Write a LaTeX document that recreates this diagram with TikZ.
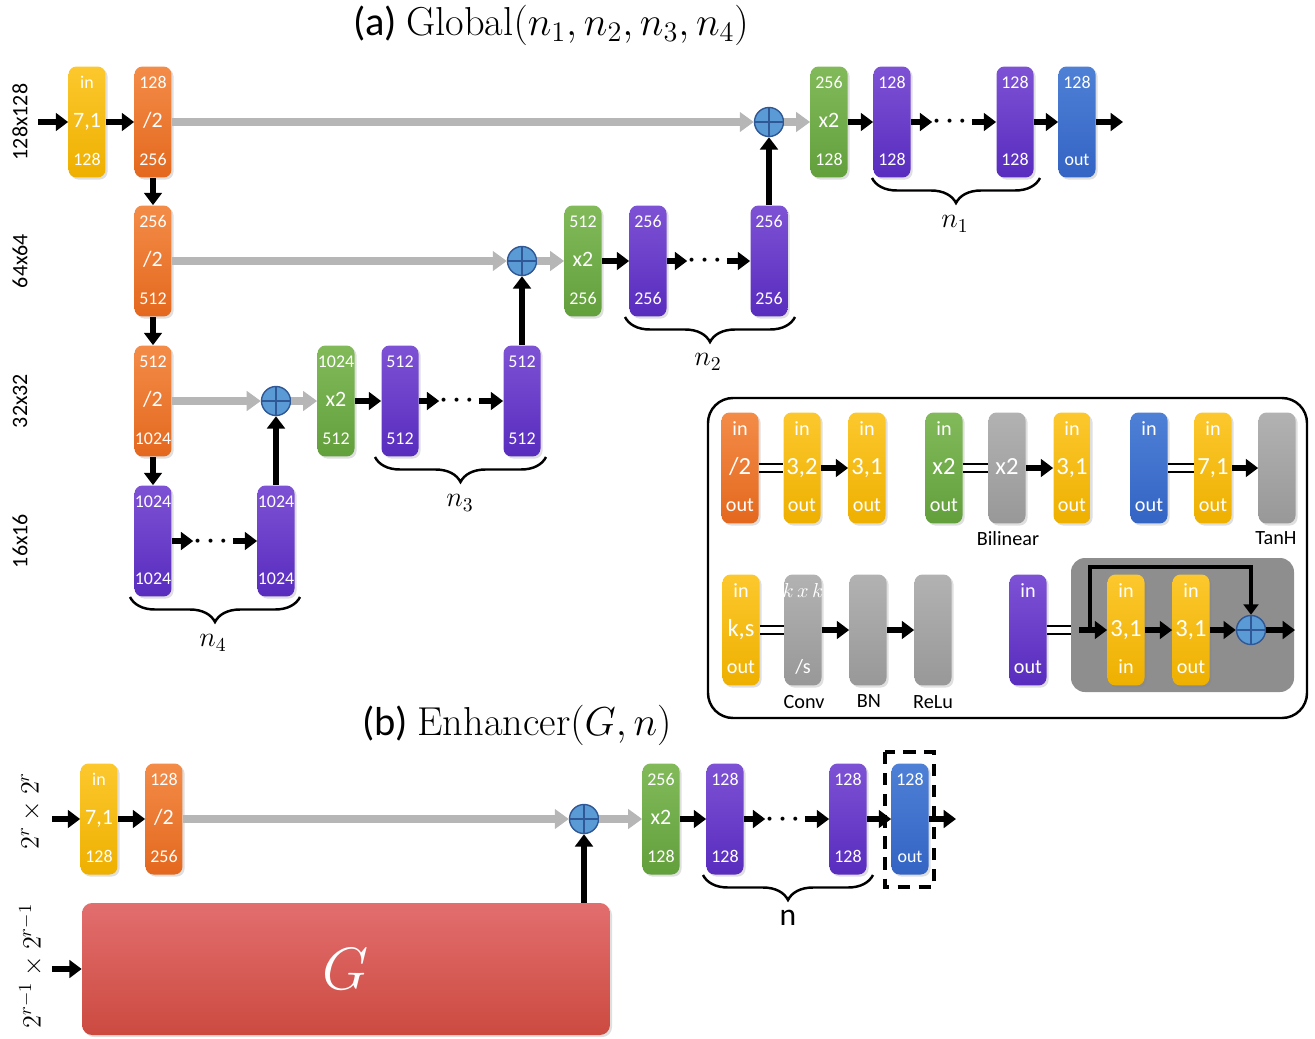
\documentclass[tikz,border=0pt]{standalone}
\usepackage{fix-cm}
\usepackage{amsmath}
\usepackage{fontspec}
\setsansfont{Carlito}
\usepackage{xcolor}
\usepackage{tikz}
\usetikzlibrary{arrows.meta,positioning,shadows,decorations.pathreplacing,calc}

\definecolor{ytop}{RGB}{252,200,45}
\definecolor{ybot}{RGB}{238,176,0}
\definecolor{otop}{RGB}{243,140,72}
\definecolor{obot}{RGB}{228,104,30}
\definecolor{gtop}{RGB}{130,186,90}
\definecolor{gbot}{RGB}{98,160,60}
\definecolor{ptop}{RGB}{126,82,212}
\definecolor{pbot}{RGB}{88,44,190}
\definecolor{btop}{RGB}{78,128,214}
\definecolor{bbot}{RGB}{52,100,196}
\definecolor{atop}{RGB}{178,178,178}
\definecolor{abot}{RGB}{152,152,152}
\definecolor{rtop}{RGB}{226,110,110}
\definecolor{rbot}{RGB}{204,74,64}
\definecolor{sumfill}{RGB}{91,155,213}
\definecolor{sumdraw}{RGB}{48,88,150}
\definecolor{grayarrow}{RGB}{182,182,182}
\definecolor{panelgray}{RGB}{142,142,142}

\newcommand{\midsize}{\fontsize{12.5}{14}\selectfont}
\newcommand{\trio}[3]{\vbox to 1.86cm{%
  \kern1pt
  \hbox to 0.74cm{\hss\strut #1\hss}\vfil
  \hbox to 0.74cm{\hss\midsize\strut #2\hss}\vfil
  \hbox to 0.74cm{\hss\strut #3\hss}}}

\begin{document}
\begin{tikzpicture}[
  x=0.02cm,y=-0.02cm,
  line cap=butt,
  block/.style={rounded corners=0.16cm,minimum width=0.74cm,minimum height=2.22cm,
    inner sep=0pt,text=white,font=\sffamily\fontsize{10.2}{11.5}\selectfont,
    drop shadow={shadow xshift=1.2pt,shadow yshift=-1.2pt,opacity=0.25}},
  yblk/.style={block,top color=ytop,bottom color=ybot},
  oblk/.style={block,top color=otop,bottom color=obot},
  gblk/.style={block,top color=gtop,bottom color=gbot},
  pblk/.style={block,top color=ptop,bottom color=pbot},
  bblk/.style={block,top color=btop,bottom color=bbot},
  ablk/.style={block,top color=atop,bottom color=abot},
  legend/.style={font={\sffamily\fontsize{11.5}{13}\selectfont\def\midsize{\fontsize{14}{16}\selectfont}}},
  sumnode/.style={circle,minimum size=0.58cm,inner sep=0pt,fill=sumfill,draw=sumdraw,line width=0.8pt,
    path picture={\draw[sumdraw,line width=0.8pt]
      (path picture bounding box.north) -- (path picture bounding box.south)
      (path picture bounding box.west) -- (path picture bounding box.east);}},
  dotsnode/.style={minimum width=0.56cm,inner sep=0pt,font=\Large\boldmath},
  blk/.style={line width=3.4pt,-{Triangle[length=7pt,width=10pt]}},
  garrow/.style={grayarrow,line width=5pt,-{Triangle[length=8pt,width=11pt]}},
  skip/.style={line width=2.4pt,-{Triangle[length=6pt,width=8.5pt]}},
  eqline/.style={line width=1.5pt,double=white,double distance=3.2pt},
  brace/.style={decorate,decoration={brace,mirror,amplitude=0.5cm},line width=1.4pt},
  rowlabel/.style={rotate=90,font=\sffamily\fontsize{12.5}{14}\selectfont},
  bracelabel/.style={font=\fontsize{16}{19}\selectfont},
  legendlabel/.style={font=\sffamily\fontsize{11.5}{13}\selectfont}
]
\path[use as bounding box] (0,0) rectangle (1315,1038);

% titles
\node[font=\fontsize{23}{28}\selectfont] (titlea) at (551,25)
  {\sffamily(a) \rmfamily Global$(n_1,n_2,n_3,n_4)$};
\node[font=\fontsize{23}{28}\selectfont] (titleb) at (517,725)
  {\sffamily(b) \rmfamily Enhancer$(G,n)$};

% (a) global network
\node[rowlabel] (res1) at (20,122) {128x128};
\node[rowlabel] (res2) at (20,261) {64x64};
\node[rowlabel] (res3) at (20,401) {32x32};
\node[rowlabel] (res4) at (20,541) {16x16};

\coordinate (in1) at (38,122);
\coordinate (out1) at (1123,122);

\node[yblk] (y1) at (87,122) {\trio{in}{7,1}{128}};
\node[oblk] (o1) at (153,122) {\trio{128}{/2}{256}};
\node[sumnode] (s1) at (769,122) {};
\node[gblk] (g1) at (829,122) {\trio{256}{x2}{128}};
\node[pblk] (p11) at (892,122) {\trio{128}{}{128}};
\node[dotsnode] (d1) at (952,122) {$\cdots$};
\node[pblk] (p12) at (1015,122) {\trio{128}{}{128}};
\node[bblk] (b1) at (1077,122) {\trio{128}{}{out}};

\node[oblk] (o2) at (153,261) {\trio{256}{/2}{512}};
\node[sumnode] (s2) at (522,261) {};
\node[gblk] (g2) at (583,261) {\trio{512}{x2}{256}};
\node[pblk] (p21) at (648,261) {\trio{256}{}{256}};
\node[dotsnode] (d2) at (707,261) {$\cdots$};
\node[pblk] (p22) at (769,261) {\trio{256}{}{256}};

\node[oblk] (o3) at (153,401) {\trio{512}{/2}{1024}};
\node[sumnode] (s3) at (276,401) {};
\node[gblk] (g3) at (336,401) {\trio{1024}{x2}{512}};
\node[pblk] (p31) at (400,401) {\trio{512}{}{512}};
\node[dotsnode] (d3) at (459,401) {$\cdots$};
\node[pblk] (p32) at (522,401) {\trio{512}{}{512}};

\node[pblk] (p41) at (153,541) {\trio{1024}{}{1024}};
\node[dotsnode] (d4) at (213,541) {$\cdots$};
\node[pblk] (p42) at (276,541) {\trio{1024}{}{1024}};

\draw[blk] (in1) -- (y1);
\draw[blk] (y1) -- (o1);
\draw[garrow] (o1) -- (s1);
\draw[garrow] (s1) -- (g1);
\draw[blk] (g1) -- (p11);
\draw[blk] (p11) -- (d1);
\draw[blk] (d1) -- (p12);
\draw[blk] (p12) -- (b1);
\draw[blk] (b1) -- (out1);

\draw[blk] (o1) -- (o2);
\draw[garrow] (o2) -- (s2);
\draw[garrow] (s2) -- (g2);
\draw[blk] (g2) -- (p21);
\draw[blk] (p21) -- (d2);
\draw[blk] (d2) -- (p22);
\draw[blk] (p22) -- (s1);

\draw[blk] (o2) -- (o3);
\draw[garrow] (o3) -- (s3);
\draw[garrow] (s3) -- (g3);
\draw[blk] (g3) -- (p31);
\draw[blk] (p31) -- (d3);
\draw[blk] (d3) -- (p32);
\draw[blk] (p32) -- (s2);

\draw[blk] (o3) -- (p41);
\draw[blk] (p41) -- (d4);
\draw[blk] (d4) -- (p42);
\draw[blk] (p42) -- (s3);

\draw[brace] (872,178) -- (1040,178);
\node[bracelabel] (n1) at (955,224) {$n_1$};
\draw[brace] (625,317) -- (795,317);
\node[bracelabel] (n2) at (708,362) {$n_2$};
\draw[brace] (375,457) -- (546,457);
\node[bracelabel] (n3) at (460,503) {$n_3$};
\draw[brace] (130,597) -- (300,597);
\node[bracelabel] (n4) at (213,643) {$n_4$};

% legend
\draw[line width=1.4pt,rounded corners=0.5cm] (708,398) rectangle (1307,718);

\node[oblk,legend] (lo) at (740,468) {\trio{in}{/2}{out}};
\node[yblk,legend] (ly1) at (802,468) {\trio{in}{3,2}{out}};
\node[yblk,legend] (ly2) at (867,468) {\trio{in}{3,1}{out}};
\draw[eqline] (lo) -- (ly1);
\draw[blk] (ly1) -- (ly2);

\node[gblk,legend] (lg) at (944,468) {\trio{in}{x2}{out}};
\node[ablk,legend] (lbil) at (1007,468) {\trio{}{x2}{}};
\node[yblk,legend] (ly3) at (1072,468) {\trio{in}{3,1}{out}};
\draw[eqline] (lg) -- (lbil);
\draw[blk] (lbil) -- (ly3);
\node[legendlabel] (tbil) at (1008,539) {Bilinear};

\node[bblk,legend] (lb) at (1149,468) {\trio{in}{}{out}};
\node[yblk,legend] (ly4) at (1213,468) {\trio{in}{7,1}{out}};
\node[ablk,legend] (ltanh) at (1277,468) {};
\draw[eqline] (lb) -- (ly4);
\draw[blk] (ly4) -- (ltanh);
\node[legendlabel] (ttanh) at (1276,538) {TanH};

\node[yblk,legend] (lk) at (741,630) {\trio{in}{k,s}{out}};
\node[ablk,legend] (lconv) at (803,630)
  {\trio{\color{white}\fontsize{11.5}{13}\selectfont$k\,x\,k$}{}{/s}};
\node[ablk,legend] (lbn) at (868,630) {};
\node[ablk,legend] (lrelu) at (933,630) {};
\draw[eqline] (lk) -- (lconv);
\draw[blk] (lconv) -- (lbn);
\draw[blk] (lbn) -- (lrelu);
\node[legendlabel] (tconv) at (804,702) {Conv};
\node[legendlabel] (tbn) at (869,701) {BN};
\node[legendlabel] (trelu) at (933,702) {ReLu};

\fill[panelgray,rounded corners=0.28cm] (1071,558) rectangle (1294,692);
\node[pblk,legend] (lp) at (1028,630) {\trio{in}{}{out}};
\node[yblk,legend] (ry1) at (1126,630) {\trio{in}{3,1}{in}};
\node[yblk,legend] (ry2) at (1191,630) {\trio{in}{3,1}{out}};
\node[sumnode] (rsum) at (1251,630) {};
\coordinate (rin) at (1079,630);
\coordinate (rskip) at (1090,630);
\coordinate (rout) at (1295,630);
\draw[eqline] (lp) -- (1071,630);
\draw[blk] (rin) -- (ry1);
\draw[blk] (ry1) -- (ry2);
\draw[blk] (ry2) -- (rsum);
\draw[blk] (rsum) -- (rout);
\draw[skip] (rskip) -- ++(0,-63) -| (rsum);

% (b) enhancer
\node[font=\fontsize{15}{18}\selectfont,rotate=90] (er1) at (31,811) {$2^r\times 2^r$};
\node[font=\fontsize{15}{18}\selectfont,rotate=90] (er2) at (31,966) {$2^{r-1}\times 2^{r-1}$};

\coordinate (ein1) at (52,819);
\coordinate (ein2) at (52,969);
\coordinate (eout) at (956,819);

\node[yblk] (ey) at (99,819) {\trio{in}{7,1}{128}};
\node[oblk] (eo) at (164,819) {\trio{128}{/2}{256}};
\node[sumnode] (es) at (584,819) {};
\node[gblk] (eg) at (661,819) {\trio{256}{x2}{128}};
\node[pblk] (ep1) at (725,819) {\trio{128}{}{128}};
\node[dotsnode] (ed) at (785,819) {$\cdots$};
\node[pblk] (ep2) at (848,819) {\trio{128}{}{128}};
\node[bblk] (eb) at (910,819) {\trio{128}{}{out}};
\node[rounded corners=0.2cm,minimum width=10.56cm,minimum height=2.64cm,
  top color=rtop,bottom color=rbot,text=white,font=\fontsize{34}{40}\selectfont,
  drop shadow={shadow xshift=1.2pt,shadow yshift=-1.2pt,opacity=0.25}]
  (G) at (346,969) {$G$};

\draw[blk] (ein1) -- (ey);
\draw[blk] (ey) -- (eo);
\draw[garrow] (eo) -- (es);
\draw[garrow] (es) -- (eg);
\draw[blk] (eg) -- (ep1);
\draw[blk] (ep1) -- (ed);
\draw[blk] (ed) -- (ep2);
\draw[blk] (ep2) -- (eb);
\draw[blk] (eb) -- (eout);
\draw[blk] (G.north -| es) -- (es);
\draw[blk] (ein2) -- (G);

\draw[line width=1.8pt,dash pattern=on 7pt off 5pt] (885,752) rectangle (934,887);
\draw[brace] (703,875) -- (873,875);
\node[font=\sffamily\fontsize{18}{21}\selectfont] (nlab) at (788,918) {n};
\end{tikzpicture}
\end{document}
